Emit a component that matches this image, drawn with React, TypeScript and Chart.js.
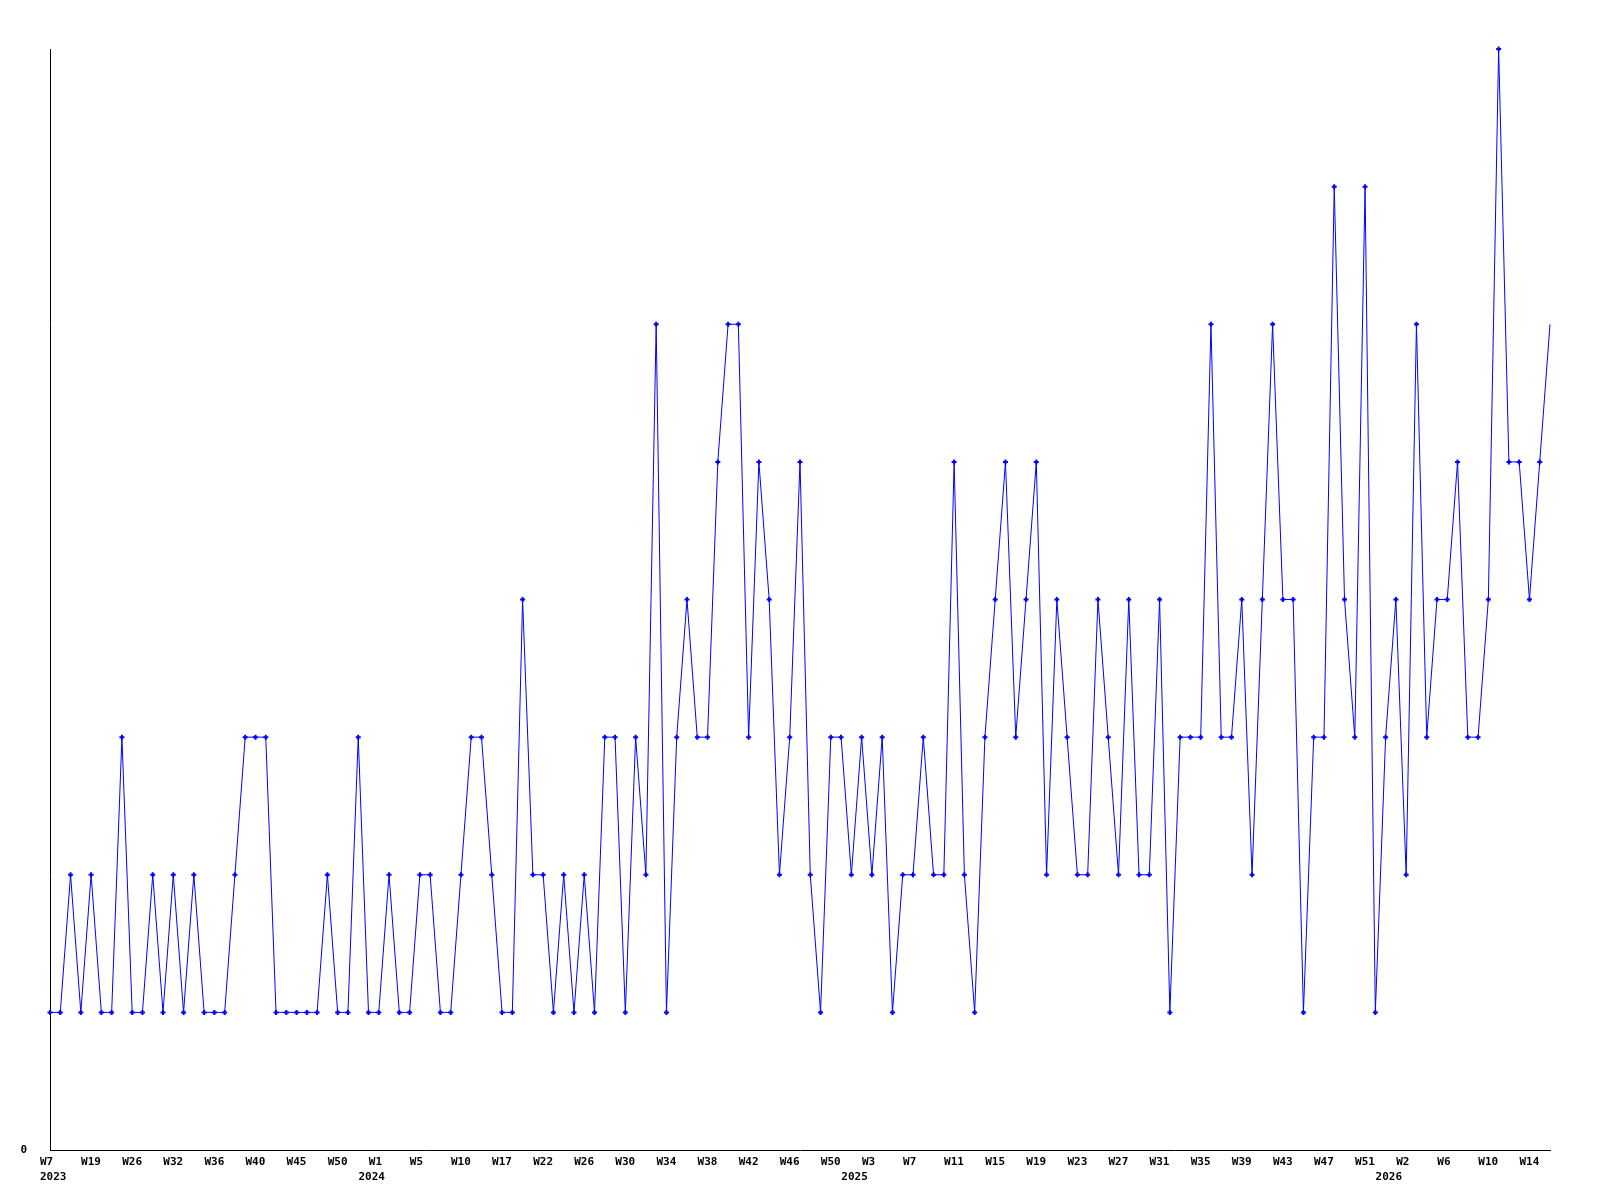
import { useEffect, useRef } from 'react';
import { Chart, registerables } from 'chart.js';

Chart.register(...registerables);

// Weekly counts, one per reported week (weeks without data are absent)
const values: number[] = [
  1, 1, 2, 1, 2, 1, 1, 3, 1, 1,
  2, 1, 2, 1, 2, 1, 1, 1, 2, 3,
  3, 3, 1, 1, 1, 1, 1, 2, 1, 1,
  3, 1, 1, 2, 1, 1, 2, 2, 1, 1,
  2, 3, 3, 2, 1, 1, 4, 2, 2, 1,
  2, 1, 2, 1, 3, 3, 1, 3, 2, 6,
  1, 3, 4, 3, 3, 5, 6, 6, 3, 5,
  4, 2, 3, 5, 2, 1, 3, 3, 2, 3,
  2, 3, 1, 2, 2, 3, 2, 2, 5, 2,
  1, 3, 4, 5, 3, 4, 5, 2, 4, 3,
  2, 2, 4, 3, 2, 4, 2, 2, 4, 1,
  3, 3, 3, 6, 3, 3, 4, 2, 4, 6,
  4, 4, 1, 3, 3, 7, 4, 3, 7, 1,
  3, 4, 2, 6, 3, 4, 4, 5, 3, 3,
  4, 8, 5, 5, 4, 5, 6,
];

// Week tick labels, shown on every 4th category
const weekTicks: string[] = [
  'W7', 'W19', 'W26', 'W32', 'W36', 'W40', 'W45', 'W50',
  'W1', 'W5', 'W10', 'W17', 'W22', 'W26', 'W30', 'W34', 'W38', 'W42', 'W46', 'W50',
  'W3', 'W7', 'W11', 'W15', 'W19', 'W23', 'W27', 'W31', 'W35', 'W39', 'W43', 'W47', 'W51',
  'W2', 'W6', 'W10', 'W14',
];
const weekTickEvery = 4;

// Year labels and the category where each is placed
const yearLabels: string[] = ['2023', '2024', '2025', '2026'];
const yearStarts: number[] = [0, 31, 78, 130];

const categories: string[] = values.map((_, i) => String(i));

const yMin = 0;
const yMax = 8;

const tickFont = { family: '"DejaVu Sans Mono", monospace', size: 11, weight: 'bold' as const, lineHeight: 1.32 };

export default function App() {
  const ref = useRef<HTMLCanvasElement | null>(null);

  useEffect(() => {
    if (!ref.current) return;
    const chart = new Chart(ref.current, {
      type: 'line',
      data: {
        labels: categories,
        datasets: [
          {
            data: values,
            borderColor: '#0000ff',
            backgroundColor: '#0000ff',
            borderWidth: 1,
            tension: 0,
            fill: false,
            pointStyle: 'cross',
            pointRadius: (ctx: any) => (ctx.dataIndex === values.length - 1 ? 0 : 2.5),
            pointHoverRadius: 2.5,
            pointBorderWidth: 2,
            pointBorderColor: '#0000ff',
            clip: false as any,
          },
        ],
      },
      options: {
        animation: false,
        responsive: true,
        maintainAspectRatio: false,
        layout: { padding: { top: 49, right: 50, bottom: 0, left: 0 } },
        plugins: {
          legend: { display: false },
          tooltip: { enabled: false },
          title: { display: false },
        },
        scales: {
          x: {
            type: 'category',
            offset: false,
            grid: { display: false, drawTicks: false },
            border: { display: true, color: '#000000', width: 1 },
            ticks: {
              autoSkip: false,
              maxRotation: 0,
              minRotation: 0,
              align: 'start',
              labelOffset: -10,
              padding: 5,
              color: '#000000',
              font: tickFont,
              callback: (_v: any, idx: number) => {
                const week = idx % weekTickEvery === 0 ? weekTicks[idx / weekTickEvery] ?? '' : '';
                const yi = yearStarts.indexOf(idx);
                const year = yi >= 0 ? yearLabels[yi] : '';
                if (!week && !year) return '';
                if (year) return [week, year];
                return week;
              },
            },
            afterFit: (s: any) => {
              s.height = 50;
            },
          },
          y: {
            type: 'linear',
            min: yMin,
            max: yMax,
            grid: { display: false, drawTicks: false },
            border: { display: true, color: '#000000', width: 1 },
            ticks: {
              stepSize: yMax - yMin,
              padding: 23,
              color: '#000000',
              font: tickFont,
              callback: (v: any) => (v === yMin ? String(yMin) : ''),
            },
            afterFit: (s: any) => {
              s.width = 50;
            },
          },
        },
      },
    });
    return () => chart.destroy();
  }, []);

  return (
    <div style={{ position: 'fixed', left: 0, top: 0, width: 1600, height: 1200, background: '#ffffff' }}>
      <canvas ref={ref} />
    </div>
  );
}
